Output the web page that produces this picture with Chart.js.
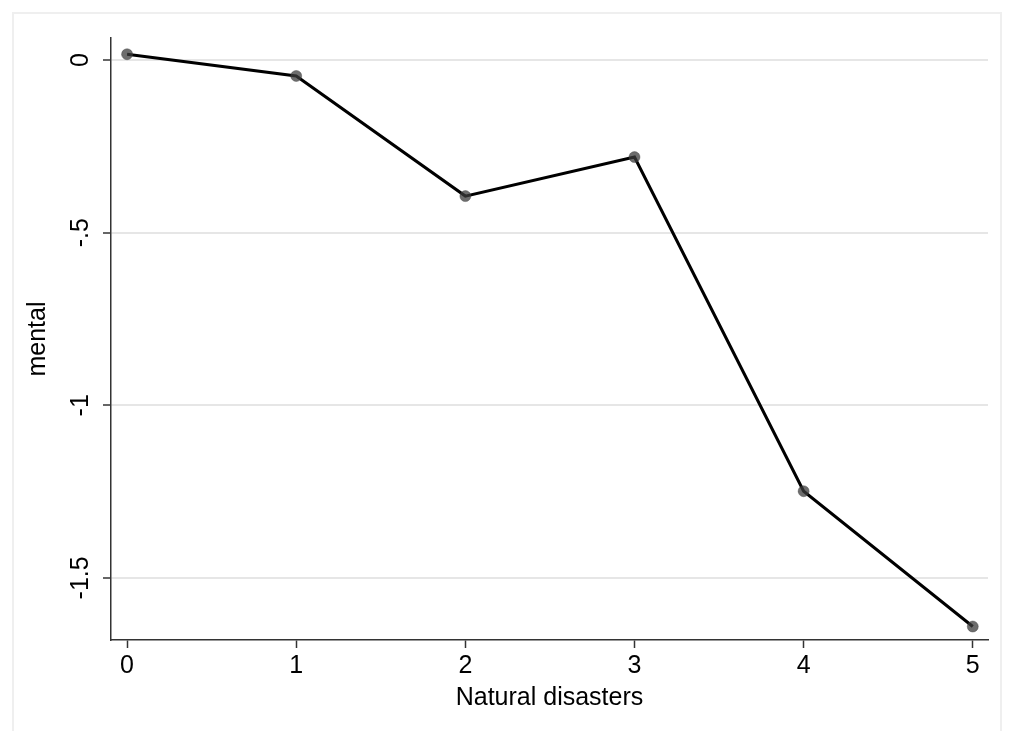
<!DOCTYPE html>
<html>
<head>
<meta charset="utf-8">
<script src="https://cdn.jsdelivr.net/npm/chart.js@4/dist/chart.umd.min.js"></script>
<style>
  html, body { margin: 0; padding: 0; background: #fff; }
  #wrap { width: 1015px; height: 731px; }
</style>
</head>
<body>
<div id="wrap"><canvas id="c" width="1015" height="731"></canvas></div>
<script>
const disasters = [0, 1, 2, 3, 4, 5];
const mental = [0.017, -0.046, -0.394, -0.281, -1.249, -1.641];
const yTicks = [0, -0.5, -1, -1.5];
const xTicks = [0, 1, 2, 3, 4, 5];

const fontFamily = '"Liberation Sans", Arial, sans-serif';
const fontSize = 25;

// thin grey frame around the graph region, like the Stata export
const frame = {
  id: 'frame',
  beforeDraw(chart) {
    const { ctx } = chart;
    ctx.save();
    ctx.strokeStyle = '#efefef';
    ctx.lineWidth = 2;
    ctx.beginPath();
    ctx.moveTo(13, 731);
    ctx.lineTo(13, 13);
    ctx.lineTo(1001, 13);
    ctx.lineTo(1001, 731);
    ctx.stroke();
    ctx.restore();
  },
};

const fmtY = (v) => {
  if (v === 0) return '0';
  return String(v).replace('0.', '.');
};

new Chart(document.getElementById('c'), {
  type: 'line',
  data: {
    datasets: [
      {
        data: disasters.map((x, i) => ({ x, y: mental[i] })),
        borderColor: '#000',
        borderWidth: 3,
        pointRadius: 5.5,
        pointBackgroundColor: 'rgba(60,60,60,0.75)',
        pointBorderColor: 'rgba(60,60,60,0.4)',
        pointBorderWidth: 1,
        tension: 0,
      },
    ],
  },
  options: {
    responsive: false,
    animation: false,
    layout: {
      padding: { left: 14, top: 38, right: 27, bottom: 10 },
    },
    scales: {
      x: {
        type: 'linear',
        min: -0.095,
        max: 5.09,
        afterBuildTicks: (scale) => { scale.ticks = xTicks.map((value) => ({ value })); },
        afterFit: (scale) => { scale.height = 81; },
        border: { color: '#333', width: 1.5 },
        grid: {
          drawOnChartArea: false,
          tickLength: 8,
          tickColor: '#333',
          tickWidth: 1.5,
        },
        ticks: {
          color: '#000',
          padding: 3,
          maxRotation: 0,
          font: { family: fontFamily, size: fontSize },
        },
        title: {
          display: true,
          text: 'Natural disasters',
          color: '#000',
          padding: { top: 0, bottom: 8 },
          font: { family: fontFamily, size: fontSize },
        },
      },
      y: {
        min: -1.68,
        max: 0.064,
        afterBuildTicks: (scale) => { scale.ticks = yTicks.map((value) => ({ value })); },
        afterFit: (scale) => { scale.width = 97; },
        border: { color: '#333', width: 1.5 },
        grid: {
          color: '#e6e6e6',
          lineWidth: 2,
          tickLength: 8,
          tickColor: '#333',
          tickWidth: 1.5,
        },
        ticks: {
          color: '#000',
          padding: 0,
          minRotation: 90,
          maxRotation: 90,
          crossAlign: 'center',
          font: { family: fontFamily, size: fontSize },
          callback: (v) => fmtY(v),
        },
        title: {
          display: true,
          text: 'mental',
          color: '#000',
          padding: { top: 9, bottom: 0 },
          font: { family: fontFamily, size: fontSize },
        },
      },
    },
    plugins: {
      legend: { display: false },
      tooltip: { enabled: false },
    },
  },
  plugins: [frame],
});
</script>
</body>
</html>
